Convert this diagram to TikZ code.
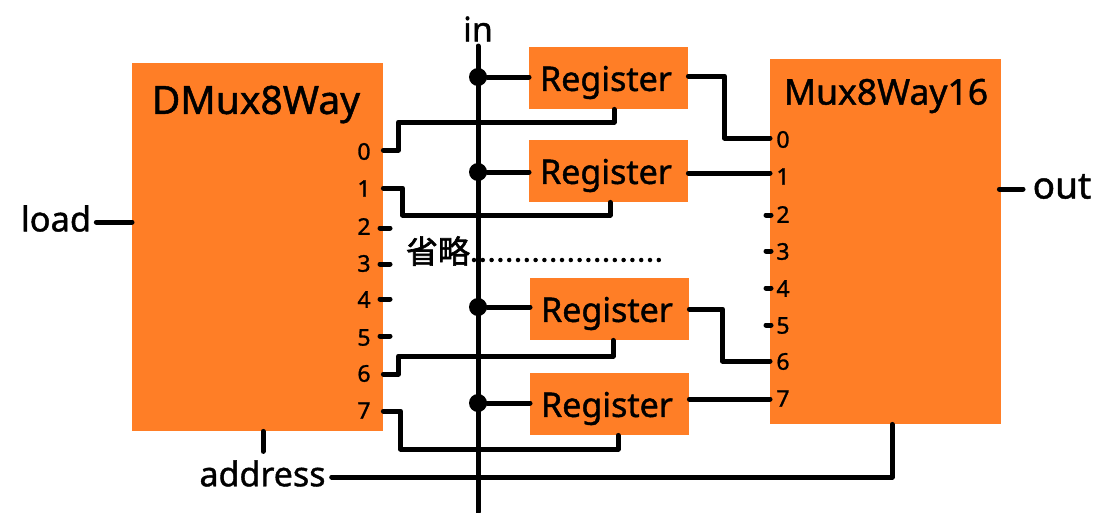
\documentclass[tikz,border=0pt]{standalone}
\usepackage{fontspec}
\setmainfont[RawFeature={embolden=1.2}]{Noto Sans}
\newfontfamily\cjkfont[RawFeature={embolden=2}]{Noto Sans CJK SC}
\definecolor{blockorange}{RGB}{255,126,38}

\begin{document}
\begin{tikzpicture}[x=1pt, y=-1pt, 
    box/.style = {fill=blockorange, inner sep=0pt, anchor=north west},
    reg/.style = {box, minimum width=159pt, minimum height=62pt},
    pin/.style = {inner sep=0pt, font=\fontsize{23}{23}\selectfont},
    big/.style = {inner sep=0pt, font=\fontsize{34}{34}\selectfont},
    wire/.style = {line width=5pt, line cap=round, line join=round},
    junction/.style = {circle, fill=black, inner sep=0pt, minimum size=18pt}] 
    \path[use as bounding box] (0,0) rectangle (1116,512);

    \node[box, minimum width=251pt, minimum height=368pt] (dmux) at (132,63) {};
    \node[box, minimum width=231pt, minimum height=365pt] (mux) at (770,59) {};
    \node[reg] (reg1) at (529,47) {};
    \node[reg] (reg2) at (529,140) {};
    \node[reg] (reg3) at (530,278) {};
    \node[reg] (reg4) at (530,373) {};
    \node[big] (name1) at (606,82.5) {Register};
    \node[big] (name2) at (606,175.5) {Register};
    \node[big] (name3) at (607,313.5) {Register};
    \node[big] (name4) at (607,408.5) {Register};

    \node[big, font=\fontsize{39}{39}\selectfont] (dmuxname) at (256,104.5) {DMux8Way};
    \node[big, font=\fontsize{35.5}{35.5}\selectfont] (muxname) at (886,96) {Mux8Way16};
    \node[big] (in) at (478,29) {in};
    \node[big, font=\fontsize{34.5}{34.5}\selectfont] (load) at (56,218.5) {load};
    \node[big, font=\fontsize{37}{37}\selectfont] (out) at (1062,186.5) {out};
    \node[big] (address) at (262.5,473.5) {address};
    \node[inner sep=0pt, font=\cjkfont\fontsize{32}{32}\selectfont] (omit) at (438,251) {省略};

    \node[pin] (d0) at (364,151.5) {0};
    \node[pin] (d1) at (364,188.5) {1};
    \node[pin] (d2) at (364,226.5) {2};
    \node[pin] (d3) at (364,263.5) {3};
    \node[pin] (d4) at (364,299.5) {4};
    \node[pin] (d5) at (364,337.5) {5};
    \node[pin] (d6) at (364,373.5) {6};
    \node[pin] (d7) at (364,410.5) {7};
    \node[pin] (m0) at (783,139.5) {0};
    \node[pin] (m1) at (783,176.5) {1};
    \node[pin] (m2) at (783,214.5) {2};
    \node[pin] (m3) at (783,251.5) {3};
    \node[pin] (m4) at (783,288.5) {4};
    \node[pin] (m5) at (783,325.5) {5};
    \node[pin] (m6) at (783,361.5) {6};
    \node[pin] (m7) at (783,398.5) {7};

    \coordinate (bustop) at (478,46);
    \coordinate (busend) at (478,512);
    \coordinate (outend) at (1023,189);
    \node[junction] (dot1) at (478,77) {};
    \node[junction] (dot2) at (478,172) {};
    \node[junction] (dot3) at (478,307) {};
    \node[junction] (dot4) at (478,403) {};
    \coordinate (dotsfrom) at (474,260);
    \coordinate (dotsto) at (660,260);

    \draw[wire] (bustop) -- (busend);
    \draw[wire] (dot1) -- (reg1.west |- dot1);
    \draw[wire] (dot2) -- (reg2.west |- dot2);
    \draw[wire] (dot3) -- (reg3.west |- dot3);
    \draw[wire] (dot4) -- (reg4.west |- dot4);

    \draw[wire] (dmux.east |- 0,150) -- ++(15,0) -- ++(0,-28) -| (reg1.south -| 614,0);
    \draw[wire] (dmux.east |- 0,188) -- ++(19,0) -- ++(0,27) -| (reg2.south -| 610,0);
    \draw[wire] (dmux.east |- 0,374) -- ++(15,0) -- ++(0,-18) -| (reg3.south -| 613,0);
    \draw[wire] (dmux.east |- 0,411) -- ++(17,0) -- ++(0,38) -| (reg4.south -| 618,0);
    \draw[wire] (380,228) -- (390,228);
    \draw[wire] (380,264) -- (390,264);
    \draw[wire] (380,299) -- (390,299);
    \draw[wire] (380,336) -- (390,336);

    \draw[wire] (reg1.east |- 0,76) -- ++(36,0) |- (mux.west |- 0,138);
    \draw[wire] (reg2.east |- 0,173) -- (mux.west |- 0,173);
    \draw[wire] (reg3.east |- 0,309) -- ++(33,0) |- (mux.west |- 0,361);
    \draw[wire] (reg4.east |- 0,399) -- (mux.west |- 0,399);
    \draw[wire] (766,215) -- (771,215);
    \draw[wire] (766,251) -- (771,251);
    \draw[wire] (766,288) -- (771,288);
    \draw[wire] (766,325) -- (771,325);

    \draw[wire] (load.east |- 0,222) ++(5,0) -- (dmux.west |- 0,222);
    \draw[wire] (mux.east |- 0,189) ++(-2,0) -- (outend);
    \draw[wire] (dmux.south -| 263,0) -- ++(0,20);
    \draw[wire] (address.east |- 0,477) ++(6,0) -| (mux.south -| 892,0);
    \draw[line width=4.5pt, line cap=round, dash pattern=on 0pt off 8.8pt] (dotsfrom) -- (dotsto);
\end{tikzpicture}
\end{document}
